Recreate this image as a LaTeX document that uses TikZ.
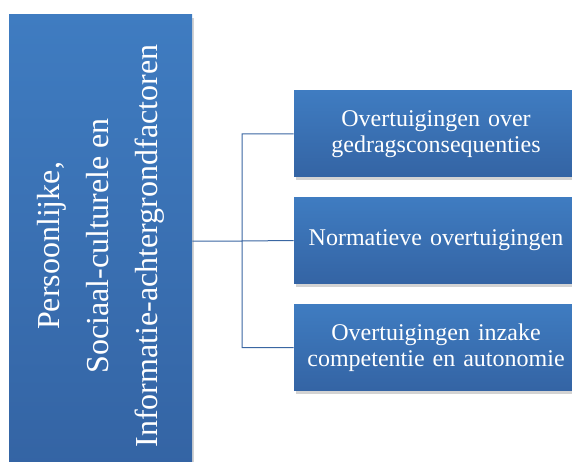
\documentclass[tikz,border=0pt]{standalone}
\usepackage{fontspec}
\setmainfont{Liberation Serif}
\usetikzlibrary{shadows}
\definecolor{boxtop}{HTML}{3F7CC1}
\definecolor{boxbot}{HTML}{3464A4}
\definecolor{linkblue}{HTML}{3A66A2}
\begin{document}
\begin{tikzpicture}[x=1pt, y=-1pt, thick,
  blok/.style={shape=rectangle, top color=boxtop, bottom color=boxbot, draw=none,
    drop shadow={opacity=0.35, shadow xshift=2pt, shadow yshift=-3pt},
    text=white, align=center, inner sep=2pt},
  keuze/.style={blok, minimum width=284pt, minimum height=86pt, text width=280pt,
    font=\fontsize{24}{26}\selectfont},
  link/.style={draw=linkblue, line width=1pt}]
  \useasboundingbox (0,0) rectangle (572,462);
  \node [blok, minimum width=183pt, minimum height=452pt] (factor) at (100.5,241) {};
  \node [rotate=90, text=white, align=center, font=\fontsize{32}{49}\selectfont] (factortxt) at (100.5,246)
    {Persoonlijke,\\Sociaal-culturele en\\Informatie-achtergrondfactoren};
  \node [keuze] (gevolg) at (436,134) {Overtuigingen over\\gedragsconsequenties};
  \node [keuze] (norm) at (436,240.5) {Normatieve overtuigingen};
  \node [keuze] (comp) at (436,347.5) {Overtuigingen inzake\\competentie en autonomie};
  \coordinate (split) at (242,241);
  \path[link] (factor.east) -- (split) (split) |- (gevolg.west) (split) -- (norm.west) (split) |- (comp.west);
\end{tikzpicture}
\end{document}
